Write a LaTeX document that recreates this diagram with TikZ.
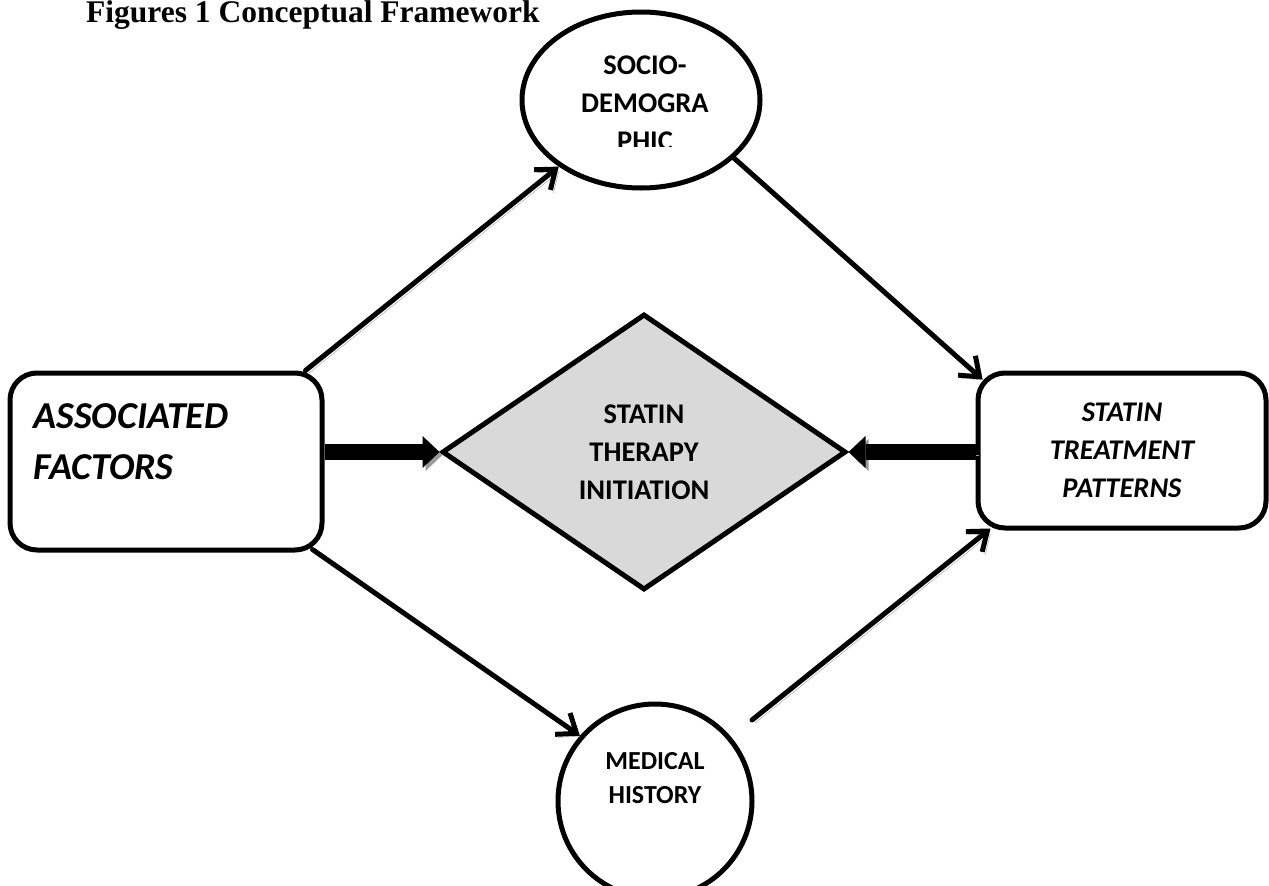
\documentclass[tikz,border=0pt]{standalone}
\usepackage{fontspec}
\setmainfont{Carlito}
\newfontfamily\titlefont{Liberation Serif}
\usepackage{xcolor}
\usepackage{tikz}
\usetikzlibrary{shapes.geometric,arrows.meta}
\definecolor{ink}{HTML}{000000}
\definecolor{shade}{HTML}{9A9A9A}
\definecolor{diafill}{HTML}{D9D9D9}
\tikzset{
  outline/.style={draw=ink, line width=5pt},
  box/.style={outline, rectangle, rounded corners=27pt, inner sep=0pt},
  oval/.style={outline, ellipse, inner sep=0pt},
  ring/.style={outline, circle, inner sep=0pt},
  decide/.style={outline, diamond, fill=diafill, inner sep=0pt},
  lab/.style={text=ink, font=\bfseries\fontsize{28.5}{38}\selectfont, align=center},
  labit/.style={lab, font=\bfseries\itshape\fontsize{28.5}{38}\selectfont},
  dropshadow/.style={preaction={draw=shade, transform canvas={shift={(3pt,-3pt)}}}},
  link/.style={draw=ink, line width=5pt, line cap=round, line join=round, dropshadow,
    -{Straight Barb[length=17pt,width=26pt]}},
  feed/.style={draw=ink, line width=16pt, dropshadow,
    -{Triangle[length=17pt,width=32pt,line width=0pt]}},
}

\begin{document}
\begin{tikzpicture}[x=1pt, y=-1pt]
  \useasboundingbox (0,0) rectangle (1269,886);
  \node[anchor=base west, inner sep=0pt, font=\titlefont\bfseries\fontsize{31.5}{38}\selectfont]
    (title) at (86,23) {Figures 1 Conceptual Framework};
  % top ellipse, its last line is cut off
  \node[oval, minimum width=238pt, minimum height=176pt] (socio) at (641,100) {};
  \begin{scope}
    \clip (500,0) rectangle (780,146);
    \node[lab] (sociotext) at (645,103) {SOCIO-\\DEMOGRA\\PHIC};
  \end{scope}
  \node[box, minimum width=312pt, minimum height=177pt] (assoc) at (166,461.5) {};
  \node[anchor=west, text=ink, align=left, font=\bfseries\itshape\fontsize{38}{51}\selectfont]
    (assoctext) at (30,442) {ASSOCIATED\\FACTORS};
  \node[decide, lab, minimum width=404pt, minimum height=276pt] (stati) at (644,452)
    {STATIN\\THERAPY\\INITIATION};
  \node[box, labit, minimum width=288pt, minimum height=155pt] (treat) at (1122,450.5)
    {STATIN\\TREATMENT\\PATTERNS};
  \node[ring, minimum size=194pt] (medic) at (655,801) {};
  \node[lab, font=\bfseries\fontsize{26}{34}\selectfont] (medictext) at (655,778) {MEDICAL\\HISTORY};
  % connectors
  \draw[link] ([shift={(-19,0)}]assoc.north east) -- (socio.219);
  \draw[link] (socio.-32) -- ([shift={(7,9)}]treat.north west);
  \draw[link] ([shift={(-12,-3)}]assoc.south east) -- (medic.139);
  \coordinate (medout) at (752,720);
  \draw[link] (medout) -- ([shift={(15,-2)}]treat.south west);
  \draw[feed] (assoc.east |- stati.west) -- (stati.west);
  \draw[feed] (treat.west |- stati.east) -- (stati.east);
\end{tikzpicture}
\end{document}
